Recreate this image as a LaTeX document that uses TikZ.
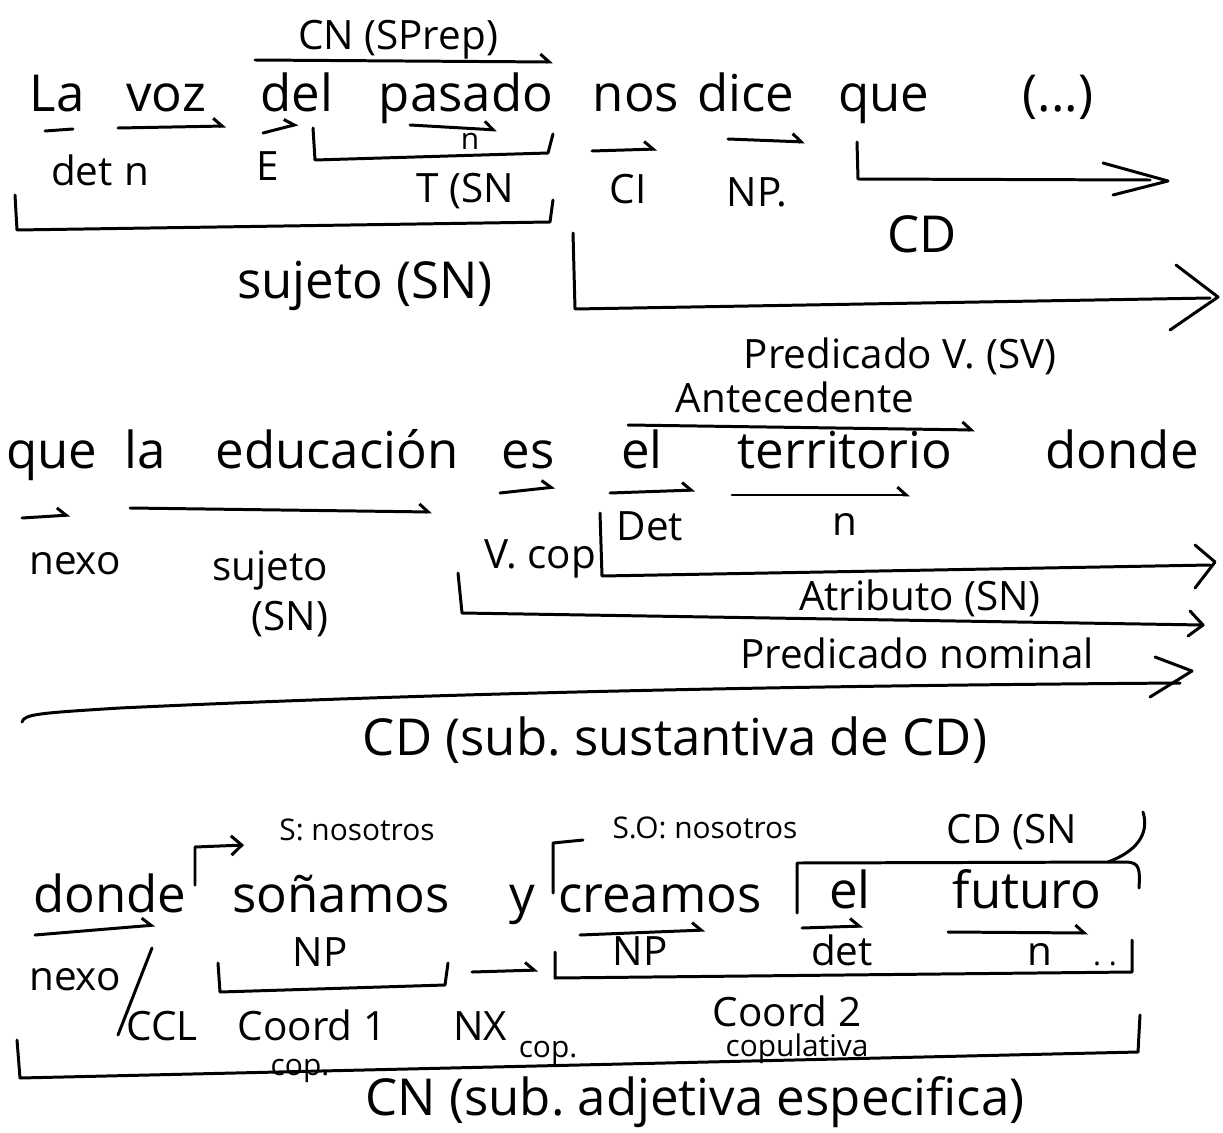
\documentclass[tikz,border=0pt]{standalone}
\usepackage{fontspec}
\setmainfont{Open Sans}
\usetikzlibrary{arrows.meta}
\frenchspacing
\begin{document}
\begin{tikzpicture}[x=0.02cm,y=-0.02cm,
  ink/.style={line width=1.7pt,line cap=round,line join=round},
  harp/.style={ink,-{Straight Barb[harpoon,length=5pt,width=9pt]}},
  barb/.style={ink,-{Straight Barb[length=6pt,width=11pt]}},
  wd/.style={font=\fontsize{29}{34}\selectfont,anchor=base,inner sep=0pt},
  lb/.style={font=\fontsize{23}{27}\selectfont,anchor=base,inner sep=0pt},
  lbb/.style={font=\fontsize{29}{33}\selectfont,anchor=base,inner sep=0pt},
  sm/.style={font=\fontsize{17}{20}\selectfont,anchor=base,inner sep=0pt},
]
\useasboundingbox (0,0) rectangle (1223,1132);

% ---------------- Row 1 ----------------
\node[lb] (cn1) at (398,50) {CN (SPrep)};
\draw[harp] (255,60) -- (553,62);

\node[wd] (w1) at (57,112) {La};
\node[wd] (w2) at (166,112) {voz};
\node[wd] (w3) at (297,112) {del};
\node[wd] (w4) at (466,112) {pasado};
\node[wd] (w5) at (636,112) {nos};
\node[wd] (w6) at (746,112) {dice};
\node[wd] (w7) at (884,112) {que};
\node[wd] (w8) at (1058,112) {(...)};

\draw[ink] (45,131) -- (73,129);
\draw[harp] (118,128) -- (226,126);
\node[lb] (l1) at (82,185) {det};
\node[lb] (l2) at (137,185) {n};
\draw[harp] (263,133) -- (298,124);
\node[lb] (l3) at (268,180) {E};
\draw[harp] (410,125) -- (497,130);
\node[sm] (l4) at (470,150) {n};
\draw[ink] (313,128) -- (315,160) -- (548,153) -- (553,134);
\node[lb] (l5) at (465,202) {T (SN};
\draw[ink] (15,195) -- (17,230) -- (550,222) -- (553,200);
\node[lbb] (l6) at (365,298) {sujeto (SN)};

\draw[harp] (592,151) -- (657,149);
\node[lb] (l7) at (628,203) {CI};
\draw[harp] (728,139) -- (805,142);
\node[lb] (l8) at (757,206) {NP.};

\draw[ink] (857,142) -- (858,179) -- (1150,180);
\draw[ink] (1103,163) -- (1168,181) -- (1113,195);
\node[lbb] (l9) at (922,252) {CD};

\draw[ink] (573,233) -- (575,309) -- (1210,298);
\draw[ink] (1176,265) -- (1218,297) -- (1170,330);
\node[lb] (l10) at (900,368) {Predicado V. (SV)};

% ---------------- Row 2 ----------------
\node[lb] (ant) at (795,412) {Antecedente};
\draw[harp] (628,425) -- (975,430);

\node[wd] (v1) at (52,468) {que};
\node[wd] (v2) at (145,468) {la};
\node[wd] (v3) at (337,468) {educación};
\node[wd] (v4) at (528,468) {es};
\node[wd] (v5) at (642,468) {el};
\node[wd] (v6) at (845,468) {territorio};
\node[wd] (v7) at (1122,468) {donde};

\draw[harp] (22,518) -- (70,515);
\node[lb] (m1) at (75,574) {nexo};
\draw[harp] (130,508) -- (432,512);
\node[lb] (m2) at (270,580) {sujeto};
\node[lb] (m3) at (290,630) {(SN)};
\draw[harp] (500,493) -- (555,487);
\node[lb] (m4) at (540,568) {V. cop};
\draw[harp] (610,493) -- (695,490);
\node[lb] (m5) at (650,540) {Det};
\draw[harp] (732,495) -- (910,495);
\node[lb] (m6) at (845,535) {n};

\draw[ink] (600,513) -- (602,576) -- (1210,565);
\draw[ink] (1195,545) -- (1215,562) -- (1195,588);
\node[lb] (m7) at (920,610) {Atributo (SN)};

\draw[ink] (458,573) -- (462,613) -- (1203,625);
\draw[ink] (1190,611) -- (1203,625) -- (1188,636);
\node[lb] (m8) at (917,668) {Predicado nominal};

\draw[ink] (22,722) .. controls (24,714) and (40,713) .. (120,708) .. controls (500,690) and (900,685) .. (1180,683);
\draw[ink] (1155,657) -- (1192,671) -- (1150,697);
\node[lbb] (m9) at (675,755) {CD (sub. sustantiva de CD)};

% ---------------- Row 3 ----------------
\node[sm] (s1) at (357,840) {S: nosotros};
\draw[barb] (195,885) -- (195,847) -- (244,845);
\node[sm] (s2) at (705,838) {S.O: nosotros};
\draw[ink] (553,893) -- (553,843) -- (583,840);
\node[lb] (s3) at (1012,843) {CD (SN};
\draw[ink] (1143,812) .. controls (1150,835) and (1135,852) .. (1108,862);
\draw[ink] (797,913) -- (797,863) -- (1126,862) .. controls (1140,862) and (1140,870) .. (1139,888);

\node[wd] (u1) at (110,912) {donde};
\node[wd] (u2) at (341,912) {soñamos};
\node[wd] (u3) at (522,912) {y};
\node[wd] (u4) at (660,912) {creamos};
\node[wd] (u5) at (850,908) {el};
\node[wd] (u6) at (1027,908) {futuro};

\draw[harp] (35,935) -- (155,925);
\node[lb] (t1) at (75,990) {nexo};
\draw[ink] (152,948) -- (118,1035);
\node[lb] (t2) at (162,1040) {CCL};

\node[lb] (t3) at (320,966) {NP};
\draw[ink] (218,963) -- (220,992) -- (445,985) -- (448,963);
\draw[harp] (472,972) -- (538,970);

\draw[harp] (580,935) -- (705,930);
\node[lb] (t4) at (640,965) {NP};
\draw[harp] (802,928) -- (863,926);
\node[lb] (t5) at (842,965) {det};
\draw[harp] (948,932) -- (1088,933);
\node[lb] (t6) at (1040,965) {n};
\node[sm] (t7) at (1105,965) {. .};
\draw[ink] (555,952) -- (555,978) -- (1132,972) -- (1132,940);

\node[lb] (t8) at (312,1040) {Coord 1};
\node[sm] (t9) at (300,1075) {cop.};
\node[lb] (t10) at (480,1040) {NX};
\node[sm] (t11) at (548,1057) {cop.};
\node[lb] (t12) at (787,1026) {Coord 2};
\node[sm] (t13) at (797,1056) {copulativa};

\draw[ink] (17,1040) -- (20,1078) -- (1138,1052) -- (1140,1015);
\node[lbb] (t14) at (695,1115) {CN (sub. adjetiva especifica)};
\end{tikzpicture}
\end{document}
